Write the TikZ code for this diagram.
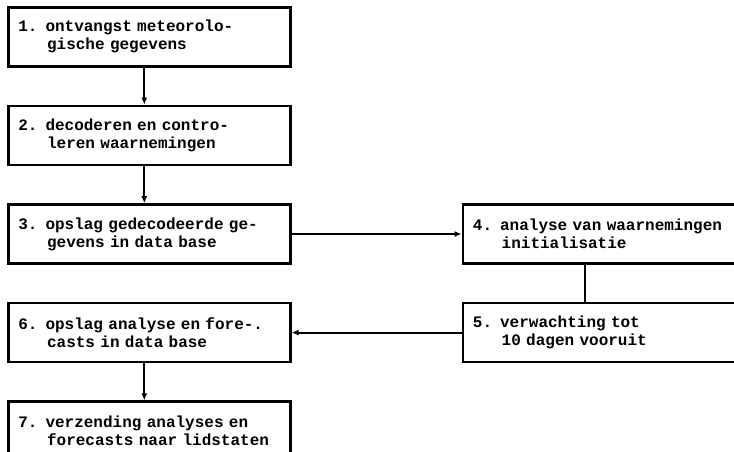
\documentclass[tikz,border=0pt]{standalone}
\usepackage{fontspec}
\setmonofont{Liberation Mono}
\usepackage{tikz}
\usetikzlibrary{arrows.meta,positioning}

% bold typewriter text with one full cell per space
\newcommand{\boxfont}{\ttfamily\bfseries\fontsize{16pt}{18pt}\selectfont
  \setlength{\spaceskip}{0.6em}\setlength{\xspaceskip}{0.6em}}
% hanging indent for the second line of a step
\newcommand{\ind}{\hspace*{1.8em}}

\begin{document}
\begin{tikzpicture}[
  box/.style={draw, line width=2.6pt, minimum height=59pt, text width=262pt, inner xsep=10pt, align=left,
    font=\boxfont},
  wide/.style={text width=300pt},
  arr/.style={-{Latex[length=7pt,width=6pt]}, line width=2pt},
  lin/.style={line width=2pt},
  node distance=37pt
]
\clip (0,0) rectangle (734pt,-451pt);

\node[box, anchor=north west] (b1) at (7pt,-6pt) {1. ontvangst meteorolo-\\\ind gische gegevens};
\node[box, below=of b1] (b2) {2. decoderen en contro-\\\ind leren waarnemingen};
\node[box, below=of b2] (b3) {3. opslag gedecodeerde ge-\\\ind gevens in data base};
\node[box, below=of b3] (b6) {6. opslag analyse en fore-.\\\ind casts in data base};
\node[box, below=of b6] (b7) {7. verzending analyses en\\\ind forecasts naar lidstaten};

\node[box, wide, right=170pt of b3] (b4) {4. analyse van waarnemingen\\\ind initialisatie};
\node[box, wide, below=of b4] (b5) {5. verwachting tot\\\ind 10 dagen vooruit};

\draw[arr] ([xshift=-5pt]b1.south) -- ([xshift=-5pt]b2.north);
\draw[arr] ([xshift=-5pt]b2.south) -- ([xshift=-5pt]b3.north);
\draw[arr] (b3.east) -- (b4.west);
\draw[lin] ([xshift=123pt]b4.south west) -- ([xshift=123pt]b5.north west);
\draw[arr] (b5.west) -- (b6.east);
\draw[arr] ([xshift=-5pt]b6.south) -- ([xshift=-5pt]b7.north);

\end{tikzpicture}
\end{document}
